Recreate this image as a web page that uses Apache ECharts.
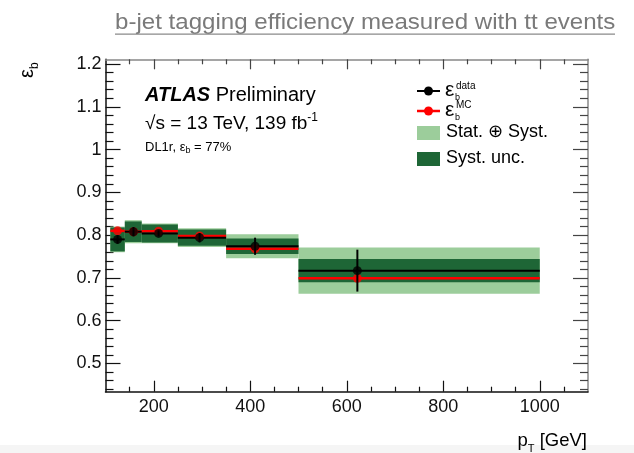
<!DOCTYPE html>
<html>
<head>
<meta charset="utf-8">
<script src="https://cdn.jsdelivr.net/npm/echarts@6/dist/echarts.min.js"></script>
<style>
  html, body { margin: 0; padding: 0; background: #ffffff; }
  #chart { width: 634px; height: 453px; }
</style>
</head>
<body>
<div id="chart"></div>
<script>
// b-tagging efficiency vs jet pT (DL1r, 77% working point)

// bin edges in pT [GeV]
const ptEdges = [110, 140, 175, 250, 350, 500, 1000];
// mean pT of the jets in each bin (marker positions)
const ptMean = [125, 158, 210, 295, 410, 622];
// measured efficiency in data
const effData = [0.790, 0.808, 0.804, 0.794, 0.774, 0.717];
// efficiency in simulation
const effMC = [0.810, 0.808, 0.809, 0.798, 0.768, 0.699];
// vertical error bar on the data points
const errData = [0.010, 0.011, 0.007, 0.011, 0.020, 0.049];
// systematic uncertainty (half width of the dark band)
const errSyst = [0.028, 0.024, 0.021, 0.019, 0.018, 0.027];
// stat (+) syst uncertainty (half width of the light band)
const errTotal = [0.030, 0.027, 0.023, 0.022, 0.028, 0.054];

// axis ranges and tick marks
const X_MIN = 100, X_MAX = 1100;
const Y_MIN = 0.434, Y_MAX = 1.211;
const xMajorTicks = [200, 400, 600, 800, 1000];
const yMajorTicks = [0.5, 0.6, 0.7, 0.8, 0.9, 1.0, 1.1, 1.2];
const X_MINOR_STEP = 50;
const Y_MINOR_STEP = 0.02;

const xMinorTicks = [];
for (let v = 150; v < X_MAX; v += X_MINOR_STEP) {
  if (xMajorTicks.indexOf(v) < 0) xMinorTicks.push(v);
}
const yMinorTicks = [];
for (let k = 22; k <= 60; k++) {
  const v = +(k * Y_MINOR_STEP).toFixed(2);
  if (v > Y_MIN && v < Y_MAX && k % 5 !== 0) yMinorTicks.push(v);
}

const FONT = '"Liberation Sans", Arial, Helvetica, sans-serif';
const LIGHT_GREEN = '#9ccd9b';
const DARK_GREEN = '#1e6636';
const RED = '#ff0000';

function makeAxis(kind, position, ticks, len, opts) {
  const o = opts || {};
  const ax = {
    type: 'value',
    min: kind === 'x' ? X_MIN : Y_MIN,
    max: kind === 'x' ? X_MAX : Y_MAX,
    position: position,
    scale: true,
    axisLine: { show: !!o.line, onZero: false, lineStyle: { color: o.lineColor || '#111', width: 1.5 } },
    axisTick: { show: true, inside: true, length: len, customValues: ticks,
                lineStyle: { color: o.tickColor || '#111', width: 1.2 } },
    axisLabel: { show: false },
    splitLine: { show: false },
    minorTick: { show: false }
  };
  if (o.labels) {
    ax.axisLabel = {
      show: true, customValues: ticks, fontFamily: FONT, fontSize: 18, color: '#111',
      margin: kind === 'x' ? 6 : 4,
      formatter: v => String(+(+v).toFixed(2))
    };
  }
  return ax;
}

// horizontal segment across each bin at a given value
function stepSeries(values, color, width, z) {
  return {
    type: 'custom', xAxisIndex: 0, yAxisIndex: 0, silent: true, z: z,
    data: values.map((v, i) => [ptEdges[i], ptEdges[i + 1], v]),
    encode: { x: [0, 1], y: 2 },
    renderItem: (params, api) => {
      const a = api.coord([api.value(0), api.value(2)]);
      const b = api.coord([api.value(1), api.value(2)]);
      return { type: 'line', shape: { x1: a[0], y1: a[1], x2: b[0], y2: b[1] },
               style: { stroke: color, lineWidth: width } };
    }
  };
}

// uncertainty box across each bin, centred on the data value
function bandSeries(halfWidths, color, z) {
  return {
    type: 'custom', xAxisIndex: 0, yAxisIndex: 0, silent: true, z: z,
    data: effData.map((v, i) => [ptEdges[i], ptEdges[i + 1], v - halfWidths[i], v + halfWidths[i]]),
    encode: { x: [0, 1], y: [2, 3] },
    renderItem: (params, api) => {
      const a = api.coord([api.value(0), api.value(3)]);
      const b = api.coord([api.value(1), api.value(2)]);
      return { type: 'rect', shape: { x: a[0], y: a[1], width: b[0] - a[0], height: b[1] - a[1] },
               style: { fill: color } };
    }
  };
}

const chart = echarts.init(document.getElementById('chart'), null, { renderer: 'canvas' });

const option = {
  animation: false,
  backgroundColor: '#ffffff',
  grid: { left: 105.5, top: 59.3, width: 482.5, height: 332.4, containLabel: false },
  xAxis: [
    makeAxis('x', 'bottom', xMajorTicks, 11, { line: true, labels: true }),
    makeAxis('x', 'bottom', xMinorTicks, 5),
    makeAxis('x', 'top', xMajorTicks, 10, { line: true, lineColor: '#888', tickColor: '#444' }),
    makeAxis('x', 'top', xMinorTicks, 5, { tickColor: '#444' })
  ],
  yAxis: [
    makeAxis('y', 'left', yMajorTicks, 15, { line: true, labels: true }),
    makeAxis('y', 'left', yMinorTicks, 8),
    makeAxis('y', 'right', yMajorTicks, 15, { line: true, lineColor: '#888', tickColor: '#444' }),
    makeAxis('y', 'right', yMinorTicks, 8, { tickColor: '#444' })
  ],
  series: [
    bandSeries(errTotal, LIGHT_GREEN, 1),
    bandSeries(errSyst, DARK_GREEN, 2),
    stepSeries(effMC, RED, 2.5, 3),
    stepSeries(effData, '#000', 2, 4),
    {
      type: 'scatter', xAxisIndex: 0, yAxisIndex: 0, z: 5, silent: true,
      symbol: 'circle', symbolSize: 9,
      itemStyle: { color: RED },
      data: ptMean.map((x, i) => [x, effMC[i]])
    },
    {
      type: 'custom', xAxisIndex: 0, yAxisIndex: 0, z: 6, silent: true,
      data: ptMean.map((x, i) => [x, effData[i] - errData[i], effData[i] + errData[i]]),
      encode: { x: 0, y: [1, 2] },
      renderItem: (params, api) => {
        const a = api.coord([api.value(0), api.value(1)]);
        const b = api.coord([api.value(0), api.value(2)]);
        return { type: 'line', shape: { x1: a[0], y1: a[1], x2: b[0], y2: b[1] },
                 style: { stroke: '#000', lineWidth: 2 } };
      }
    },
    {
      type: 'scatter', xAxisIndex: 0, yAxisIndex: 0, z: 7, silent: true,
      symbol: 'circle', symbolSize: 9,
      itemStyle: { color: '#000' },
      data: ptMean.map((x, i) => [x, effData[i]])
    }
  ],
  graphic: [
    // faint strip along the bottom edge
    { type: 'rect', left: 0, top: 445, shape: { width: 634, height: 8 }, style: { fill: '#f5f5f5' }, z: -10 },
    // page heading with underline
    { type: 'text', x: 115, y: 23, scaleX: 1.095, style: { text: 'b-jet tagging efficiency measured with tt events',
      font: '22px ' + FONT, fill: '#7a7a7a', verticalAlign: 'middle' } },
    { type: 'rect', shape: { x: 115, y: 33.5, width: 500, height: 1.3 }, style: { fill: '#8a8a8a' } },

    // experiment label
    { type: 'text', x: 145, y: 95, style: {
      text: '{b|ATLAS} Preliminary', font: '20px ' + FONT, fill: '#000', verticalAlign: 'middle',
      rich: { b: { fontFamily: FONT, fontSize: 20, fontWeight: 'bold', fontStyle: 'italic', fill: '#000' } } } },
    { type: 'text', x: 145, y: 124, style: {
      text: '√s = 13 TeV, 139 fb{sup|-1}', font: '19px ' + FONT, fill: '#000', verticalAlign: 'middle',
      lineHeight: 24,
      rich: { sup: { fontFamily: FONT, fontSize: 12, verticalAlign: 'top', lineHeight: 24, fill: '#000' } } } },
    { type: 'text', x: 145, y: 147, style: {
      text: 'DL1r, ε{sub|b} = 77%', font: '13px ' + FONT, fill: '#000', verticalAlign: 'middle',
      lineHeight: 16,
      rich: { sub: { fontFamily: FONT, fontSize: 9, verticalAlign: 'bottom', lineHeight: 16, fill: '#000' } } } },

    // legend
    { type: 'line', shape: { x1: 417, y1: 91, x2: 440, y2: 91 }, style: { stroke: '#000', lineWidth: 2 } },
    { type: 'circle', shape: { cx: 428.5, cy: 91, r: 4.5 }, style: { fill: '#000' } },
    { type: 'text', x: 445, y: 90, style: { text: 'ε', font: '21px ' + FONT, fill: '#000', verticalAlign: 'middle' } },
    { type: 'text', x: 456, y: 86.5, style: { text: 'data', font: '10px ' + FONT, fill: '#000', verticalAlign: 'middle' } },
    { type: 'text', x: 455, y: 97.5, style: { text: 'b', font: '9px ' + FONT, fill: '#000', verticalAlign: 'middle' } },

    { type: 'line', shape: { x1: 417, y1: 111, x2: 440, y2: 111 }, style: { stroke: RED, lineWidth: 2.5 } },
    { type: 'circle', shape: { cx: 428.5, cy: 111, r: 4.5 }, style: { fill: RED } },
    { type: 'text', x: 445, y: 110, style: { text: 'ε', font: '21px ' + FONT, fill: '#000', verticalAlign: 'middle' } },
    { type: 'text', x: 456, y: 105, style: { text: 'MC', font: '10px ' + FONT, fill: '#000', verticalAlign: 'middle' } },
    { type: 'text', x: 455, y: 117.5, style: { text: 'b', font: '9px ' + FONT, fill: '#000', verticalAlign: 'middle' } },

    { type: 'rect', shape: { x: 417, y: 126, width: 23, height: 14 }, style: { fill: LIGHT_GREEN } },
    { type: 'text', x: 446, y: 132.5, style: { text: 'Stat. ⊕ Syst.', font: '18px ' + FONT, fill: '#000', verticalAlign: 'middle' } },
    { type: 'rect', shape: { x: 417, y: 152, width: 23, height: 14 }, style: { fill: DARK_GREEN } },
    { type: 'text', x: 446, y: 158, style: { text: 'Syst. unc.', font: '18px ' + FONT, fill: '#000', verticalAlign: 'middle' } },

    // axis titles
    { type: 'text', x: 587, y: 441, style: {
      text: 'p{sub|T} [GeV]', font: '18.5px ' + FONT, fill: '#000', align: 'right', verticalAlign: 'middle',
      lineHeight: 22,
      rich: { sub: { fontFamily: FONT, fontSize: 11, verticalAlign: 'bottom', lineHeight: 26, fill: '#000' } } } },
    { type: 'text', x: 41, y: 78, rotation: Math.PI / 2, style: {
      text: 'ε{sub|b}', font: '20px ' + FONT, fill: '#000', align: 'left', verticalAlign: 'bottom',
      lineHeight: 22,
      rich: { sub: { fontFamily: FONT, fontSize: 12, verticalAlign: 'bottom', lineHeight: 28, fill: '#000' } } } }
  ]
};

chart.setOption(option);
</script>
</body>
</html>
